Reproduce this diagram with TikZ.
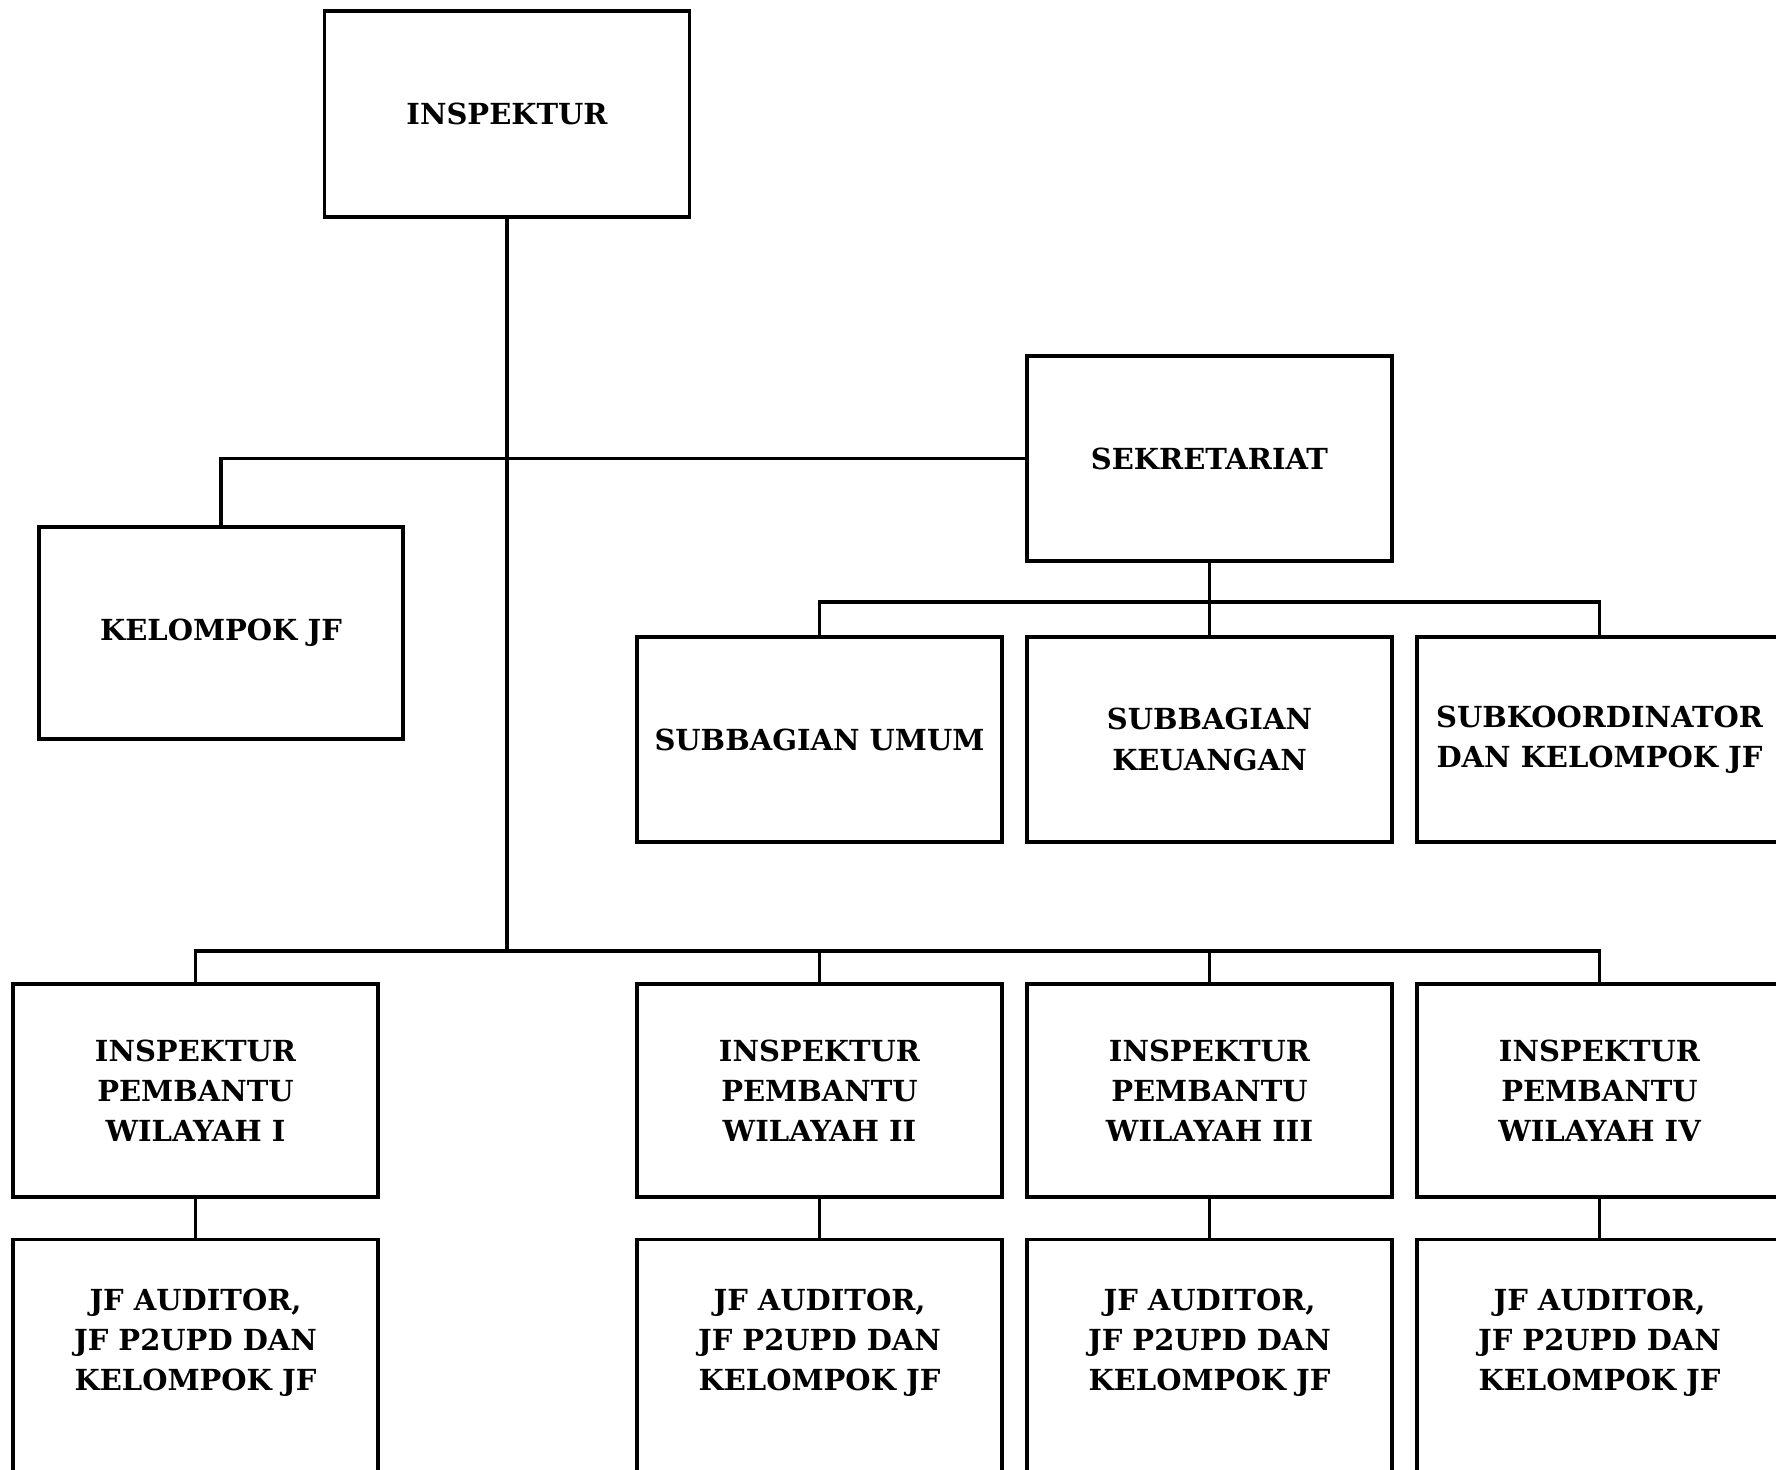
\documentclass[tikz,border=0pt]{standalone}
\usepackage{fontspec}
\setmainfont{DejaVu Serif}
\usetikzlibrary{calc}
\begin{document}
\begin{tikzpicture}[x=0.5pt,y=-0.5pt,
  box/.style={draw, line width=1.6pt, minimum width=182.5pt, inner sep=0pt, align=center,
    font=\bfseries\fontsize{14.5}{20.1}\selectfont},
  lbl/.style={inner sep=0pt, align=center, font=\bfseries\fontsize{14.5}{20.1}\selectfont},
  wire/.style={line width=1.6pt}]
\useasboundingbox (0,0) rectangle (1776,1469);
\clip (0,0) rectangle (1776,1469);
\fill[white] (0,0) rectangle (1776,1469);

\node[box, minimum height=103pt] (insp) at (507,114) {INSPEKTUR};
\node[box, minimum width=182pt, minimum height=106pt] (kel) at (221,633) {KELOMPOK JF};
\node[box, minimum height=102.5pt] (sekr) at (1209.5,458.5) {SEKRETARIAT};
\node[box, minimum height=102.5pt] (sub1) at (819.5,739.5) {SUBBAGIAN UMUM};
\node[box, minimum height=102.5pt] (sub2) at (1209.5,739.5) {SUBBAGIAN\\KEUANGAN};
\node[box, minimum height=102.5pt] (sub3) at (1599.5,739.5) {SUBKOORDINATOR\\DAN KELOMPOK JF};

\node[box, minimum height=106.5pt] (pem1) at (195.5,1090.5) {INSPEKTUR\\PEMBANTU\\WILAYAH I};
\node[box, minimum height=106.5pt] (pem2) at (819.5,1090.5) {INSPEKTUR\\PEMBANTU\\WILAYAH II};
\node[box, minimum height=106.5pt] (pem3) at (1209.5,1090.5) {INSPEKTUR\\PEMBANTU\\WILAYAH III};
\node[box, minimum height=106.5pt] (pem4) at (1599.5,1090.5) {INSPEKTUR\\PEMBANTU\\WILAYAH IV};

\foreach \i/\xx in {1/195.5,2/819.5,3/1209.5,4/1599.5}{
  \node[box, minimum height=150pt, anchor=north] (jf\i) at (\xx,1238) {};
  \node[lbl] (jf\i t) at (\xx,1343) {JF AUDITOR,\\JF P2UPD DAN\\KELOMPOK JF};
}

\coordinate (busB) at (507,951);
\coordinate (busS) at (1209.5,602);

\draw[wire] (insp.south) -- (busB);
\draw[wire] (kel.north) |- (sekr.west);
\draw[wire] (sekr.south) -- (busS);
\draw[wire] (sub1.north) |- (busS);
\draw[wire] (sub3.north) |- (busS);
\draw[wire] (sub2.north) -- (busS);
\draw[wire] (pem1.north) |- (busB);
\draw[wire] (pem4.north) |- (busB);
\draw[wire] (pem2.north) -- (pem2.north |- busB);
\draw[wire] (pem3.north) -- (pem3.north |- busB);
\foreach \i in {1,2,3,4}{
  \draw[wire] (pem\i.south) -- (jf\i.north);
}
\end{tikzpicture}
\end{document}
